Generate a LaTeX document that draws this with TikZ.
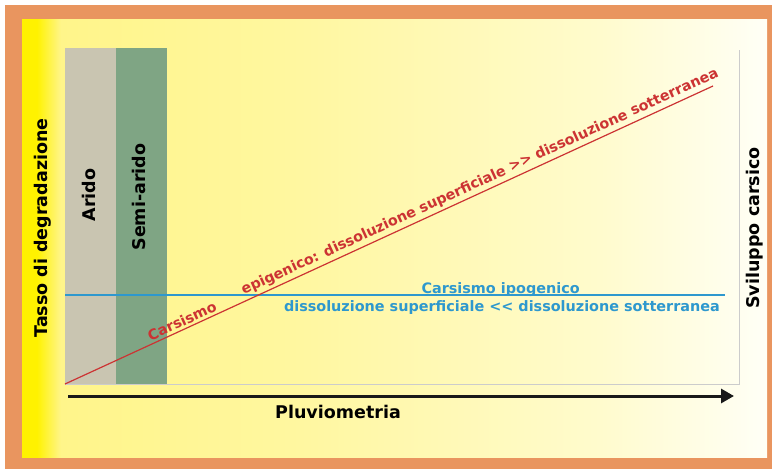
\documentclass[tikz,border=0pt]{standalone}
\usepackage{fontspec}
\setmainfont{DejaVu Sans}
\usetikzlibrary{arrows.meta}

\definecolor{frameorange}{RGB}{233,149,95}
\definecolor{aridgray}{RGB}{201,197,177}
\definecolor{semigreen}{RGB}{127,165,132}
\definecolor{epired}{RGB}{204,51,51}
\definecolor{ipoblue}{RGB}{46,152,206}
\definecolor{shadeA}{RGB}{255,242,0}
\definecolor{shadeB}{RGB}{255,245,138}
\definecolor{shadeC}{RGB}{255,247,160}
\definecolor{shadeD}{RGB}{255,251,205}
\definecolor{shadeE}{RGB}{255,255,246}

\pgfdeclarehorizontalshading{panelshade}{100bp}{color(0bp)=(shadeA); color(25bp)=(shadeA);
  color(26.0bp)=(shadeA); color(27.6bp)=(shadeB); color(43.7bp)=(shadeC);
  color(63.8bp)=(shadeD); color(75bp)=(shadeE); color(100bp)=(shadeE)}

\begin{document}
\begin{tikzpicture}[x=1pt, y=-1pt,
    axislabel/.style={font=\bfseries\fontsize{17.5}{20}\selectfont, text=black},
    epilabel/.style={font=\bfseries\fontsize{14.3}{16}\selectfont, text=epired, sloped, above, inner sep=2.5pt},
    ipolabel/.style={font=\bfseries\fontsize{14.4}{16}\selectfont, text=ipoblue, inner sep=1pt}]
    \useasboundingbox (0,0) rectangle (772,469);

    % Background
    \fill[white] (0,0) rectangle (772,469);
    \fill[frameorange] (5,5) rectangle (772,469);
    \shade[shading=panelshade] (22,19) rectangle (767,457);

    % Climate bands
    \fill[aridgray] (65,48) rectangle (116,384);
    \fill[semigreen] (116,48) rectangle (167,384);
    \draw[black!20, line width=0.8pt] (739,50) -- (739,384) -- (65,384);

    % Coordinates
    \coordinate (origin) at (65,384);
    \coordinate (epiend) at (713,86);
    \coordinate (ipostart) at (65,295);
    \coordinate (ipoend) at (725,295);
    \coordinate (pluvstart) at (68,396);
    \coordinate (pluvend) at (734,396);

    % Nodes
    \node[axislabel, rotate=90] (tasso) at (43,228) {Tasso di degradazione};
    \node[axislabel, rotate=90] (arido) at (89,195) {Arido};
    \node[axislabel, rotate=90] (semiarido) at (139,197) {Semi-arido};
    \node[axislabel, rotate=90] (sviluppo) at (755,228) {Sviluppo carsico};
    \node[axislabel] (pluvio) at (338,412) {Pluviometria};

    % Lines
    \draw[ipoblue, line width=1.2pt] (ipostart) -- (ipoend)
        node[ipolabel, pos=0.66, above, yshift=-3pt] (ipotitle) {Carsismo ipogenico}
        node[ipolabel, pos=0.662, below, yshift=-4pt] (ipotext) {dissoluzione superficiale {<}{<} dissoluzione sotterranea};
    \draw[epired, line width=1.2pt] (origin) -- (epiend)
        node[epilabel, pos=0.186] (epititle) {Carsismo}
        node[epilabel, pos=0.647] (epitext) {epigenico: dissoluzione superficiale {>}{>} dissoluzione sotterranea};

    % Arrows
    \draw[-{Triangle[length=13pt, width=14pt]}, line width=3pt, black!90] (pluvstart) -- (pluvend);
\end{tikzpicture}
\end{document}
